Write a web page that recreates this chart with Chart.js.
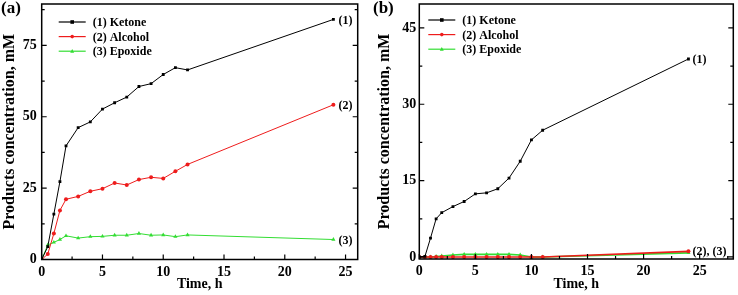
<!DOCTYPE html>
<html>
<head>
<meta charset="utf-8">
<script src="https://cdn.jsdelivr.net/npm/chart.js@4/dist/chart.umd.min.js"></script>
<style>
  html, body { margin: 0; padding: 0; background: #fff; }
  #wrap { position: relative; width: 738px; height: 295px; overflow: hidden; }
  .pane { position: absolute; top: 0; width: 369px; height: 295px; }
  .tag { position: absolute; top: -2px; font: bold 17px 'Liberation Serif', serif; color: #000; }
</style>
</head>
<body>
<div id="wrap">
  <div class="pane" style="left:0"><canvas id="chartA" width="369" height="295"></canvas></div>
  <div class="pane" style="left:369px"><canvas id="chartB" width="369" height="295"></canvas></div>
  <div class="tag" style="left:1px">(a)</div>
  <div class="tag" style="left:373px">(b)</div>
</div>
<script>
// values
const seriesNames = ['(1) Ketone', '(2) Alcohol', '(3) Epoxide'];

const timesA = [0, 0.5, 1, 1.5, 2, 3, 4, 5, 6, 7, 8, 9, 10, 11, 12, 24];
const ketoneA = [0, 4.5, 15.9, 27.3, 39.8, 46.2, 48.2, 52.7, 54.9, 56.9, 60.6, 61.6, 64.8, 67.2, 66.4, 84.1];
const alcoholA = [0, 1.9, 9.1, 17.2, 21.1, 22.1, 23.9, 24.8, 26.8, 26.1, 28.0, 28.8, 28.4, 30.9, 33.3, 54.2];
const epoxideA = [0, 5.1, 6.0, 7.0, 8.3, 7.5, 8.0, 8.1, 8.5, 8.5, 9.1, 8.5, 8.6, 8.0, 8.6, 7.0];
const endTagsA = ['(1)', '(2)', '(3)'];

const timesB = [0, 0.5, 1, 1.5, 2, 3, 4, 5, 6, 7, 8, 9, 10, 11, 24];
const ketoneB = [0, 0.1, 3.7, 7.5, 8.7, 9.9, 10.9, 12.4, 12.6, 13.4, 15.5, 18.8, 23.0, 24.9, 38.9];
const alcoholB = [0, 0, 0, 0, 0, 0, 0, 0, 0, 0, 0, 0, 0, 0, 1.1];
const epoxideB = [0, 0, 0, 0.1, 0.2, 0.4, 0.5, 0.5, 0.5, 0.5, 0.5, 0.4, 0, 0, 0.8];
const endTagsB = ['(1)', '(2), (3)', ''];

const xTicks = [0, 5, 10, 15, 20, 25];
const yTicksA = [0, 25, 50, 75];
const yTicksB = [0, 15, 30, 45];

const colors = ['#000000', '#ee1c1c', '#33dd33'];
const markers = ['rect', 'circle', 'triangle'];

Chart.defaults.font.family = "'Liberation Serif', 'Times New Roman', serif";
Chart.defaults.font.weight = 'bold';
Chart.defaults.color = '#000';

function pts(times, vals) {
  return times.map((t, i) => ({x: t, y: vals[i]}));
}

function marker(ctx, style, x, y, r, color) {
  ctx.fillStyle = color;
  ctx.beginPath();
  if (style === 'rect') {
    ctx.rect(x - r, y - r, 2 * r, 2 * r);
  } else if (style === 'circle') {
    ctx.arc(x, y, r, 0, Math.PI * 2);
  } else {
    ctx.moveTo(x, y - r * 1.2);
    ctx.lineTo(x + r * 1.1, y + r * 0.8);
    ctx.lineTo(x - r * 1.1, y + r * 0.8);
    ctx.closePath();
  }
  ctx.fill();
}

// frame with inward ticks, legend and end labels
const decor = {
  id: 'decor',
  afterDatasetsDraw(chart, args, opts) {
    const ctx = chart.ctx;
    const a = chart.chartArea;
    const sx = chart.scales.x, sy = chart.scales.y;
    ctx.save();
    ctx.strokeStyle = '#000';
    ctx.lineWidth = 1.5;
    ctx.strokeRect(a.left, a.top, a.right - a.left, a.bottom - a.top);

    ctx.lineWidth = 1.2;
    const xt = sx.ticks.map(t => t.value);
    const xstep = xt[1] - xt[0];
    ctx.beginPath();
    xt.forEach(v => {
      const p = sx.getPixelForValue(v);
      ctx.moveTo(p, a.bottom); ctx.lineTo(p, a.bottom - 5);
    });
    for (let v = xt[0] + xstep / 2; v <= sx.max; v += xstep) {
      const p = sx.getPixelForValue(v);
      ctx.moveTo(p, a.bottom); ctx.lineTo(p, a.bottom - 3);
    }
    const yt = sy.ticks.map(t => t.value);
    const ystep = yt[1] - yt[0];
    yt.forEach(v => {
      const p = sy.getPixelForValue(v);
      ctx.moveTo(a.left, p); ctx.lineTo(a.left + 5, p);
      ctx.moveTo(a.right, p); ctx.lineTo(a.right - 5, p);
    });
    for (let v = yt[0] + ystep / 2; v <= sy.max; v += ystep) {
      const p = sy.getPixelForValue(v);
      ctx.moveTo(a.left, p); ctx.lineTo(a.left + 3, p);
      ctx.moveTo(a.right, p); ctx.lineTo(a.right - 3, p);
    }
    ctx.stroke();

    // legend
    ctx.font = "bold 12px 'Liberation Serif', serif";
    ctx.textBaseline = 'middle';
    ctx.textAlign = 'left';
    chart.data.datasets.forEach((ds, i) => {
      const lx = a.left + opts.legendX;
      const ly = a.top + opts.legendY + i * 14.6;
      ctx.strokeStyle = ds.borderColor;
      ctx.lineWidth = 1.2;
      ctx.beginPath();
      ctx.moveTo(lx, ly); ctx.lineTo(lx + 27, ly);
      ctx.stroke();
      marker(ctx, ds.pointStyle, lx + 13.5, ly, 1.8, ds.borderColor);
      ctx.fillStyle = '#000';
      ctx.fillText(ds.label, lx + 34, ly + 1);
    });

    // end-of-curve labels
    opts.tags.forEach((tag, i) => {
      if (!tag) return;
      const els = chart.getDatasetMeta(i).data;
      const last = els[els.length - 1];
      ctx.fillStyle = '#000';
      ctx.fillText(tag, last.x + opts.tagGap, last.y + 1);
    });
    ctx.restore();
  }
};

function makeChart(id, times, series, yTicks, ymin, ymax, xmax, pad, lineW, opts) {
  const ctx = document.getElementById(id).getContext('2d');
  return new Chart(ctx, {
    type: 'line',
    data: {
      datasets: series.map((vals, i) => ({
        label: seriesNames[i],
        data: pts(times, vals),
        borderColor: colors[i],
        backgroundColor: colors[i],
        borderWidth: lineW[i],
        pointStyle: markers[i],
        pointRadius: i === 2 ? 2.4 : 2,
        pointBorderWidth: 0,
        tension: 0
      }))
    },
    options: {
      responsive: false,
      animation: false,
      layout: { padding: { top: pad.top, right: pad.right, left: 0, bottom: 0 } },
      scales: {
        x: {
          type: 'linear',
          min: 0,
          max: xmax,
          grid: { display: false, drawTicks: false },
          border: { display: false },
          ticks: { font: { size: 14, weight: 'bold' }, padding: 4 },
          afterBuildTicks: s => { s.ticks = xTicks.map(v => ({value: v})); },
          afterFit: s => { s.height = pad.xh; s.paddingLeft = 0; s.paddingRight = 0; },
          title: { display: true, text: 'Time, h', font: { size: 14, weight: 'bold' }, padding: { top: 0, bottom: 2 } }
        },
        y: {
          min: ymin,
          max: ymax,
          grid: { display: false, drawTicks: false },
          border: { display: false },
          ticks: { font: { size: 14, weight: 'bold' }, padding: pad.tickPad },
          afterBuildTicks: s => { s.ticks = yTicks.map(v => ({value: v})); },
          afterFit: s => { s.width = pad.yw; s.paddingTop = 0; s.paddingBottom = 0; },
          title: { display: true, text: 'Products concentration, mM', font: { size: 16, weight: 'bold' }, padding: { top: pad.titlePad, bottom: 0 } }
        }
      },
      plugins: {
        legend: { display: false },
        tooltip: { enabled: false },
        decor: opts
      }
    },
    plugins: [decor]
  });
}

makeChart('chartA', timesA, [ketoneA, alcoholA, epoxideA], yTicksA, 0, 89.5, 26,
  { top: 3, right: 11.3, yw: 41.7, xh: 35.5, tickPad: 5, titlePad: 0 },
  [1, 1, 1],
  { legendX: 17, legendY: 18, tags: endTagsA, tagGap: 5 });

makeChart('chartB', timesB, [ketoneB, alcoholB, epoxideB], yTicksB, -0.4, 49.7, 28,
  { top: 3, right: 4.7, yw: 50.3, xh: 36, tickPad: 3, titlePad: 6 },
  [1, 1.6, 1.6],
  { legendX: 9, legendY: 16, tags: endTagsB, tagGap: 4 });
</script>
</body>
</html>
